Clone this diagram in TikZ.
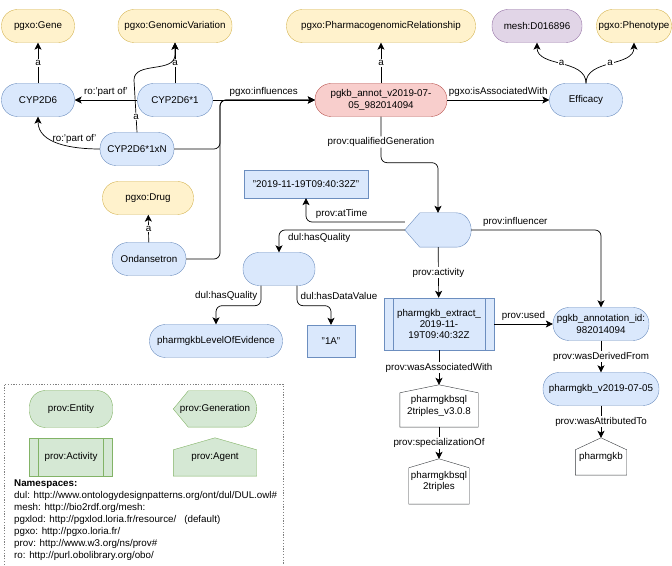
\documentclass[tikz,border=0pt]{standalone}
\usepackage{fontspec}
\setmainfont{Liberation Sans}
\usetikzlibrary{arrows.meta,backgrounds}

\definecolor{entfill}{HTML}{DAE8FC}
\definecolor{entline}{HTML}{6C8EBF}
\definecolor{clsfill}{HTML}{FFF2CC}
\definecolor{clsline}{HTML}{D6B656}
\definecolor{relfill}{HTML}{F8CECC}
\definecolor{relline}{HTML}{B85450}
\definecolor{meshfill}{HTML}{E1D5E7}
\definecolor{meshline}{HTML}{9673A6}
\definecolor{grnfill}{HTML}{D5E8D4}
\definecolor{grnline}{HTML}{82B366}
\definecolor{agtline}{HTML}{36393D}

\tikzstyle{every node}=[font=\fontsize{9.8}{11.3}\selectfont]
\tikzstyle{box}=[rectangle,draw,align=center,inner sep=2pt,minimum height=33pt]
\tikzstyle{entity}=[box,rounded corners=16pt,draw=entline,fill=entfill]
\tikzstyle{class}=[entity,draw=clsline,fill=clsfill]
\tikzstyle{literal}=[box,draw=entline,fill=entfill]
\tikzstyle{procbox}=[box,path picture={\draw[#1] ([xshift=9pt]path picture bounding box.north west) -- ([xshift=9pt]path picture bounding box.south west) ([xshift=-9pt]path picture bounding box.north east) -- ([xshift=-9pt]path picture bounding box.south east);}]
\tikzstyle{activity}=[procbox=entline,draw=entline,fill=entfill]
\tikzstyle{outline}=[rectangle,align=center,inner sep=2pt]
\tikzstyle{link}=[draw,line width=0.7pt,-{Stealth[length=7pt,width=7pt,inset=1.8pt]}]
\tikzstyle{lbl}=[fill=white,inner sep=1pt]

\begin{document}
\begin{tikzpicture}[x=1pt,y=1pt]
    \useasboundingbox (0,0) rectangle (672,565);
    % classes
    \foreach \pos/\name/\wid/\txt in {{(38,539)/gene/73/pgxo:Gene}, {(175,539)/genvar/114/pgxo:GenomicVariation},
                                     {(381,539)/pgxrel/189/pgxo:PharmacogenomicRelationship},
                                     {(634,539)/pheno/75/pgxo:Phenotype}, {(148,367)/drug/91/pgxo:Drug}}
        \node[class,minimum width=\wid pt] (\name) at \pos {\txt};
    \node[class,draw=meshline,fill=meshfill,minimum width=90pt] (mesh) at (537,539) {mesh:D016896};
    % entities
    \foreach \pos/\name/\wid/\txt in {{(38,465)/cyp/73/CYP2D6}, {(175,465)/cypone/75/CYP2D6*1},
                                     {(137,416)/cypn/74/CYP2D6*1xN}, {(149,306)/ondan/74/Ondansetron},
                                     {(586,465)/eff/73/Efficacy}, {(279,296)/qual/72/},
                                     {(216,224)/loe/133/pharmgkbLevelOfEvidence},
                                     {(601,241)/annid/96/pgkb\_annotation\_id:\\982014094},
                                     {(601,176)/pgkbv/116/pharmgkb\_v2019-07-05}}
        \node[entity,minimum width=\wid pt] (\name) at \pos {\txt};
    \node[entity,draw=relline,fill=relfill,minimum width=132pt] (annot) at (381,465) {pgkb\_annot\_v2019-07-\\05\_982014094};
    \node[literal,minimum width=124pt,minimum height=28pt] (time) at (306,381) {"2019-11-19T09:40:32Z"};
    \node[literal,minimum width=48pt,minimum height=32pt] (onea) at (331,224) {"1A"};
    \node[activity,minimum width=110pt,minimum height=52pt] (extract) at (439,241) {pharmgkb\_extract\_\\2019-11-\\19T09:40:32Z};
    \node[outline,minimum width=66pt,minimum height=34pt] (gen) at (438,335) {};
    \node[outline,minimum width=78pt,minimum height=42pt] (sqlv) at (439,159) {pharmgkbsql\\2triples\_v3.0.8};
    \node[outline,minimum width=60pt,minimum height=45pt] (sql) at (439,83.5) {pharmgkbsql\\2triples};
    \node[outline,minimum width=51pt,minimum height=37pt] (pgkb) at (601,108.5) {pharmgkb};

    % legend
    \draw[gray,line width=0.7pt,dash pattern=on 1.2pt off 1.6pt] (4,0) -- (4,181) -- (283,181) -- (283,0);
    \node[entity,draw=grnline,fill=grnfill,minimum width=83pt,minimum height=37pt] (lent) at (71,156) {prov:Entity};
    \node[outline,minimum width=83pt,minimum height=36pt] (lgen) at (215,156) {prov:Generation};
    \node[procbox=grnline,draw=grnline,fill=grnfill,minimum width=83pt,minimum height=38pt] (lact) at (71,108) {prov:Activity};
    \node[outline,minimum width=83pt,minimum height=38pt] (lagent) at (215,108) {prov:Agent};
    \node[anchor=north west,align=left,inner sep=0pt,font=\fontsize{9.8}{12}\selectfont] (ns) at (14,85)
        {\textbf{Namespaces:}\\
         dul: http://www.ontologydesignpatterns.org/ont/dul/DUL.owl\#\\
         mesh: http://bio2rdf.org/mesh:\\
         pgxlod: http://pgxlod.loria.fr/resource/\hspace{8pt}(default)\\
         pgxo: http://pgxo.loria.fr/\\
         prov: http://www.w3.org/ns/prov\#\\
         ro: http://purl.obolibrary.org/obo/};

    \begin{scope}[on background layer]
    % generation shapes
    \foreach \g/\fc/\dc in {gen/entfill/entline, lgen/grnfill/grnline}
        \filldraw[fill=\fc,draw=\dc] (\g.west) -- ([xshift=15pt]\g.north west) -- ([xshift=-15pt]\g.north east)
            to[out=0,in=90] (\g.east) to[out=-90,in=0] ([xshift=-15pt]\g.south east) -- ([xshift=15pt]\g.south west) -- cycle;
    % agent shapes (house with roof)
    \foreach \a/\fc/\dc/\roof in {sqlv/white/agtline/8, sql/white/agtline/9, pgkb/white/agtline/12, lagent/grnfill/grnline/12}
        \filldraw[fill=\fc,draw=\dc] (\a.south west) -- ([yshift=-\roof pt]\a.north west) -- (\a.north)
            -- ([yshift=-\roof pt]\a.north east) -- (\a.south east) -- cycle;
    \end{scope}

    % connectors
    \coordinate (join) at (220,465);
    \coordinate (bend) at (134,485);
    \foreach \source/\dest in {cyp/gene, cypone/genvar, annot/pgxrel, ondan/drug}
        \path[link] (\source) -- node[lbl] {a} (\dest);
    \path[link] (cypone) -- node[above] {ro:'part of'} (cyp);
    \path[link] (cypn.west) to[out=180,in=-90] node[above,pos=0.3] {ro:'part of'} (cyp.south);
    \path[link] (cypn.north) -- node[lbl,pos=0.3] {a} (bend) to[out=90,in=-90] ([yshift=-12pt]genvar.south) -- (genvar.south);
    \path[link] (cypone) -- node[above] {pgxo:influences} (annot);
    \path[link,rounded corners=6pt] (cypn.east) -| (join) -- (annot.west);
    \path[link,rounded corners=6pt] (ondan.east) -| (join) -- (annot.west);
    \path[link] (annot) -- node[above] {pgxo:isAssociatedWith} (eff);
    \path[link] (eff.north) to[out=90,in=-90] node[lbl] {a} (mesh.south);
    \path[link] (eff.north) to[out=90,in=-90] node[lbl] {a} (pheno.south);
    \path[link,rounded corners=6pt] (annot.south) -- node[lbl,pos=0.55] {prov:qualifiedGeneration} ++(0,-46) -| (gen.north);
    \path[link,rounded corners=6pt] ([yshift=8pt]gen.west) -| node[above,pos=0.32] {prov:atTime} (time.south);
    \path[link,rounded corners=6pt] (gen.west) -| node[below,pos=0.34] {dul:hasQuality} (qual.north);
    \path[link,rounded corners=6pt] (gen.east) -| node[above,pos=0.17] {prov:influencer} (annid.north);
    \path[link] (gen) -- node[lbl] {prov:activity} (extract);
    \path[link,rounded corners=6pt] ([xshift=-18pt]qual.south) -- node[left] {dul:hasQuality} ++(0,-20) -| (loe.north);
    \path[link,rounded corners=6pt] ([xshift=18pt]qual.south) -- node[right] {dul:hasDataValue} ++(0,-20) -| (onea.north);
    \path[link] (extract) -- node[above] {prov:used} (annid);
    \foreach \source/\dest/\prop in {extract/sqlv/wasAssociatedWith, sqlv/sql/specializationOf,
                                     annid/pgkbv/wasDerivedFrom, pgkbv/pgkb/wasAttributedTo}
        \path[link] (\source) -- node[lbl] {prov:\prop} (\dest.north);
\end{tikzpicture}
\end{document}
